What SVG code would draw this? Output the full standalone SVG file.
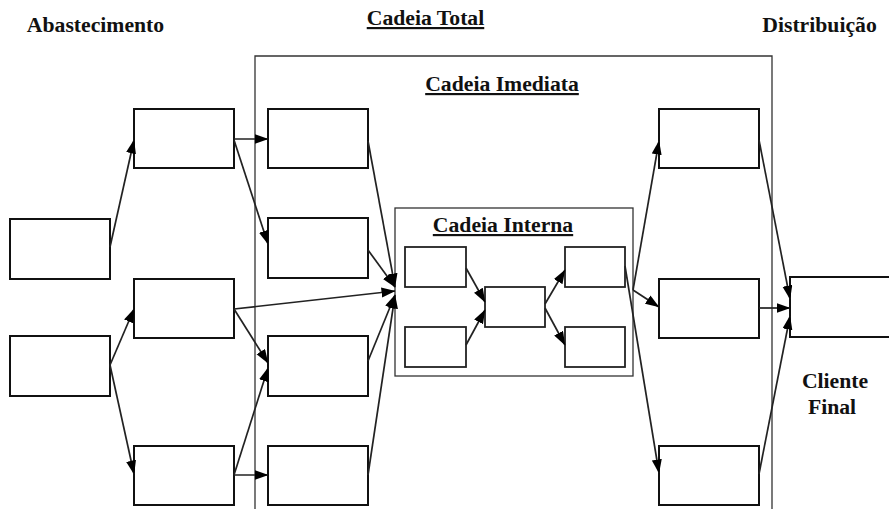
<svg xmlns="http://www.w3.org/2000/svg" width="889" height="509" viewBox="0 0 889 509">
<defs>
<style>
.box{fill:#fff;stroke:#111;stroke-width:2}
.ibox{fill:#fff;stroke:#222;stroke-width:1.8}
.frame{fill:none;stroke:#333;stroke-width:1.3}
.lbl{font-family:"Liberation Serif","Times New Roman",serif;font-weight:bold;font-size:21.7px;fill:#111}
.u{text-decoration:underline}
.c{fill:none;stroke:#222;stroke-width:1.7;marker-end:url(#ah)}
</style>
<marker id="ah" markerUnits="userSpaceOnUse" markerWidth="15" markerHeight="11" refX="13.5" refY="5" orient="auto">
<path d="M0,0 L14,5 L0,10 z" fill="#000"/>
</marker>
</defs>
<rect width="889" height="509" fill="#fff"/>

<g id="cadeia-imediata">
<path class="frame" d="M255,512 V56 H772 V512"/>
<text class="lbl u" x="502" y="91" text-anchor="middle">Cadeia Imediata</text>
</g>
<g id="cadeia-interna">
<rect class="frame" x="395" y="208" width="238" height="168"/>
<text class="lbl u" x="503" y="232" text-anchor="middle">Cadeia Interna</text>
</g>

<g id="titles">
<text class="lbl" x="95.5" y="32" text-anchor="middle">Abastecimento</text>
<text class="lbl u" x="425.5" y="25" text-anchor="middle">Cadeia Total</text>
<text class="lbl" x="819.5" y="32" text-anchor="middle">Distribuição</text>
<text class="lbl" x="835" y="388" text-anchor="middle">Cliente</text>
<text class="lbl" x="832" y="414" text-anchor="middle">Final</text>
</g>

<g id="n-a1"><rect class="box" x="10" y="219" width="100" height="60"/></g>
<g id="n-a2"><rect class="box" x="10" y="336" width="100" height="60"/></g>
<g id="n-b1"><rect class="box" x="134" y="109" width="100" height="59"/></g>
<g id="n-b2"><rect class="box" x="134" y="279" width="100" height="59"/></g>
<g id="n-b3"><rect class="box" x="134" y="446" width="100" height="59"/></g>
<g id="n-c1"><rect class="box" x="268" y="109" width="100" height="59"/></g>
<g id="n-c2"><rect class="box" x="268" y="218" width="100" height="60"/></g>
<g id="n-c3"><rect class="box" x="268" y="336" width="100" height="60"/></g>
<g id="n-c4"><rect class="box" x="268" y="446" width="100" height="59"/></g>
<g id="n-i1"><rect class="ibox" x="405" y="247" width="61" height="40"/></g>
<g id="n-i2"><rect class="ibox" x="405" y="327" width="61" height="40"/></g>
<g id="n-i3"><rect class="ibox" x="485" y="287" width="60" height="40"/></g>
<g id="n-i4"><rect class="ibox" x="565" y="247" width="60" height="40"/></g>
<g id="n-i5"><rect class="ibox" x="565" y="327" width="60" height="40"/></g>
<g id="n-d1"><rect class="box" x="659" y="109" width="100" height="59"/></g>
<g id="n-d2"><rect class="box" x="659" y="279" width="100" height="59"/></g>
<g id="n-d3"><rect class="box" x="659" y="446" width="100" height="59"/></g>
<g id="n-cliente"><rect class="box" x="790" y="277" width="100" height="60"/></g>

<g id="connectors">
<line class="c" x1="110" y1="247" x2="134" y2="140"/>
<line class="c" x1="110" y1="365" x2="134" y2="309"/>
<line class="c" x1="110" y1="365" x2="134" y2="474"/>
<line class="c" x1="234" y1="139" x2="268" y2="139"/>
<line class="c" x1="234" y1="140" x2="268" y2="244"/>
<line class="c" x1="234" y1="309" x2="395" y2="291"/>
<line class="c" x1="234" y1="309" x2="268" y2="363"/>
<line class="c" x1="234" y1="475" x2="268" y2="368"/>
<line class="c" x1="234" y1="475" x2="268" y2="475"/>
<line class="c" x1="368" y1="141" x2="395" y2="287"/>
<line class="c" x1="368" y1="250" x2="395" y2="287"/>
<line class="c" x1="368" y1="361" x2="395" y2="295"/>
<line class="c" x1="368" y1="475" x2="395" y2="295"/>
<line class="c" x1="466" y1="268" x2="485" y2="302"/>
<line class="c" x1="466" y1="345" x2="485" y2="310"/>
<line class="c" x1="545" y1="304" x2="565" y2="270"/>
<line class="c" x1="545" y1="308" x2="565" y2="345"/>
<line class="c" x1="625" y1="266" x2="659" y2="473"/>
<line class="c" x1="633" y1="290" x2="659" y2="141"/>
<line class="c" x1="633" y1="290" x2="659" y2="307"/>
<line class="c" x1="759" y1="140" x2="790" y2="299"/>
<line class="c" x1="759" y1="308" x2="790" y2="308"/>
<line class="c" x1="759" y1="474" x2="790" y2="316"/>
</g>
</svg>
